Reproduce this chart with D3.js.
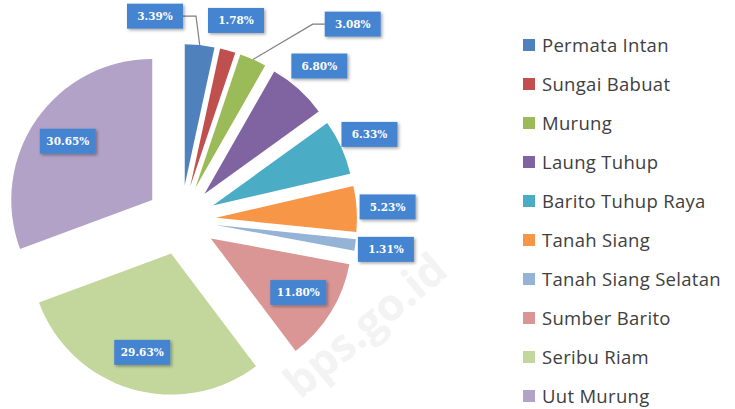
<!DOCTYPE html>
<html>
<head>
<meta charset="utf-8">
<script src="https://cdn.jsdelivr.net/npm/d3@7"></script>
<style>
  body { margin: 0; background: #fff; }
  .legend text { font-family: "Open Sans", sans-serif; fill: #404040; }
  .lbl text { font-family: "DejaVu Serif", serif; font-weight: bold; fill: #fff; }
</style>
</head>
<body>
<div class="chart"></div>
<script>
// kecamatan names and their shares (%)
var districts = ["Permata Intan", "Sungai Babuat", "Murung", "Laung Tuhup", "Barito Tuhup Raya",
  "Tanah Siang", "Tanah Siang Selatan", "Sumber Barito", "Seribu Riam", "Uut Murung"];
var shares = [3.39, 1.78, 3.08, 6.80, 6.33, 5.23, 1.31, 11.80, 29.63, 30.65];
var labels = ["3.39%", "1.78%", "3.08%", "6.80%", "6.33%", "5.23%", "1.31%", "11.80%", "29.63%", "30.65%"];
var colors = ["#4F81BD", "#C0504D", "#9BBB59", "#8064A2", "#4BACC6",
  "#F79646", "#95B3D7", "#D99694", "#C3D69B", "#B3A2C7"];

var svgWidth = 735;
var svgHeight = 409;

var cx = 181, cy = 220;
var radius = 141;
var explode = 35;

var svg = d3.select(".chart")
  .append("svg")
  .attr("width", svgWidth)
  .attr("height", svgHeight);

// drop shadow for the label boxes
var defs = svg.append("defs");
var f = defs.append("filter").attr("id", "shadow")
  .attr("x", "-20%").attr("y", "-30%").attr("width", "150%").attr("height", "180%");
f.append("feDropShadow")
  .attr("dx", 1.5).attr("dy", 1.5).attr("stdDeviation", 1.5)
  .attr("flood-color", "#000").attr("flood-opacity", 0.35);

// faint watermark
svg.append("text")
  .attr("transform", "translate(300,400) rotate(-40)")
  .attr("font-family", "Open Sans, sans-serif")
  .attr("font-size", 44)
  .attr("font-weight", "bold")
  .attr("fill", "#f3f3f3")
  .text("bps.go.id");

var data = districts.map(function(d, i) {
  return { name: d, value: shares[i], label: labels[i], color: colors[i] };
});

var pie = d3.pie().sort(null).value(d => d.value).startAngle(0).endAngle(2 * Math.PI);
var arc = d3.arc().innerRadius(0).outerRadius(radius);
var arcs = pie(data);

function mid(a) { return (a.startAngle + a.endAngle) / 2; }
function offset(a, dist) {
  var m = mid(a);
  return [dist * Math.sin(m), -dist * Math.cos(m)];
}

var chartGroup = svg.append("g")
  .attr("transform", `translate(${cx}, ${cy})`);

chartGroup.selectAll("path.slice")
  .data(arcs)
  .enter()
  .append("path")
  .attr("class", "slice")
  .attr("d", arc)
  .attr("fill", d => d.data.color)
  .attr("transform", function(d) {
    var o = offset(d, explode);
    return `translate(${o[0]}, ${o[1]})`;
  });

// label positions: big slices inside, small ones just outside
var boxW = 56, boxH = 25;
var moved = { "Permata Intan": [-48, 2], "Murung": [87, -7] };

arcs.forEach(function(d) {
  var dist = d.data.value > 10 ? explode + radius * 0.73 : explode + radius + 31;
  var p = offset(d, dist);
  var sh = moved[d.data.name];
  if (sh) {
    p = [p[0] + sh[0], p[1] + sh[1]];
    // leader line to the outer edge of the slice
    var edge = offset(d, explode + radius);
    var side = sh[0] < 0 ? boxW / 2 : -boxW / 2;
    var bx = p[0] + side;
    var pts = [[bx, p[1]], [bx + (sh[0] < 0 ? 13 : -12), p[1]], edge];
    chartGroup.append("path")
      .attr("d", d3.line()(pts))
      .attr("fill", "none")
      .attr("stroke", "#7f7f7f")
      .attr("stroke-width", 1.2);
  }
  var g = chartGroup.append("g")
    .attr("class", "lbl")
    .attr("transform", `translate(${p[0]}, ${p[1]})`);
  g.append("rect")
    .attr("x", -boxW / 2)
    .attr("y", -boxH / 2)
    .attr("width", boxW)
    .attr("height", boxH)
    .attr("fill", "#4584D0")
    .attr("filter", "url(#shadow)");
  g.append("text")
    .attr("text-anchor", "middle")
    .attr("dy", "0.35em")
    .attr("font-size", 10.5)
    .text(d.data.label);
});

// legend
var legend = svg.append("g").attr("class", "legend");
var ly = d3.scalePoint().domain(districts).range([45, 396]);

var items = legend.selectAll("g")
  .data(data)
  .enter()
  .append("g")
  .attr("transform", d => `translate(523, ${ly(d.name)})`);

items.append("rect")
  .attr("x", 0)
  .attr("y", -6)
  .attr("width", 12)
  .attr("height", 12)
  .attr("fill", d => d.color);

items.append("text")
  .attr("x", 19)
  .attr("dy", "0.36em")
  .attr("font-size", 18.5)
  .attr("letter-spacing", 0.3)
  .text(d => d.name);
</script>
</body>
</html>
